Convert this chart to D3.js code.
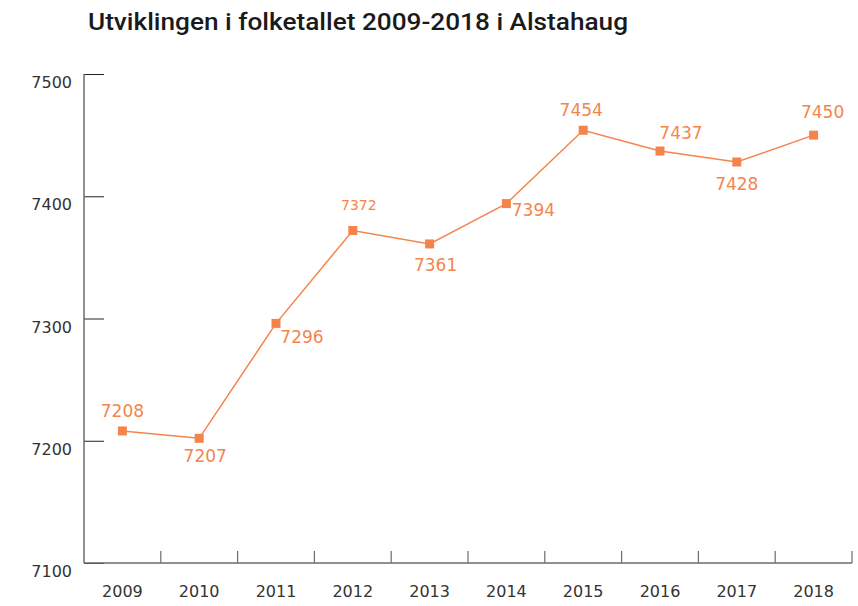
<!DOCTYPE html>
<html>
<head>
<meta charset="utf-8">
<script src="https://cdn.jsdelivr.net/npm/d3@7"></script>
<style>
  body { margin: 0; background: #fff; }
  svg text { font-family: "DejaVu Sans", Verdana, sans-serif; }
</style>
</head>
<body>
<div id="chart"></div>
<script>
// Chart data
const years = ["2009", "2010", "2011", "2012", "2013", "2014", "2015", "2016", "2017", "2018"];
const population = [7208, 7202, 7296, 7372, 7361, 7394, 7454, 7437, 7428, 7450];
const valueLabels = ["7208", "7207", "7296", "7372", "7361", "7394", "7454", "7437", "7428", "7450"];
const yTicks = [7100, 7200, 7300, 7400, 7500];
const titleText = "Utviklingen i folketallet 2009-2018 i Alstahaug";

// label placement: [dx, dy, anchor, font size]
const labelPos = [
  [0, -14, "middle", 17],
  [6, 24, "middle", 17],
  [26, 20, "middle", 17],
  [6, -20, "middle", 14],
  [6, 27, "middle", 17],
  [27, 12, "middle", 17],
  [-2, -14, "middle", 17],
  [21, -12, "middle", 17],
  [0, 28, "middle", 17],
  [9, -17, "middle", 17]
];

const W = 858, H = 606;
const margin = { top: 74, right: 6, bottom: 43, left: 84 };
const width = W - margin.left - margin.right;
const height = H - margin.top - margin.bottom;
const orange = "#f5844c";
const axisColor = "#6b6b6b";

const svg = d3.select("#chart").append("svg")
  .attr("width", W).attr("height", H);

svg.append("text")
  .attr("x", 88).attr("y", 30)
  .style("font-family", "Roboto, sans-serif")
  .style("font-weight", 500)
  .style("font-size", "23px")
  .attr("textLength", 540)
  .attr("lengthAdjust", "spacingAndGlyphs")
  .attr("fill", "#1a1a1a")
  .text(titleText);

const g = svg.append("g").attr("transform", `translate(${margin.left},${margin.top})`);

const x = d3.scaleBand().domain(years).range([0, width]);
const y = d3.scaleLinear().domain([7100, 7500]).range([height, 0]);

// Y axis: line with ticks pointing inward
const yAxis = g.append("g").call(d3.axisRight(y).tickValues(yTicks).tickSize(20).tickFormat(""));
yAxis.select(".domain").remove();
yAxis.selectAll(".tick line").attr("stroke", "#222").attr("stroke-width", 1);
g.append("line")
  .attr("x1", 0).attr("x2", 0).attr("y1", 0).attr("y2", height)
  .attr("stroke", axisColor).attr("stroke-width", 1.5);
g.selectAll(".ylab").data(yTicks).enter().append("text")
  .attr("class", "ylab")
  .attr("x", -12).attr("y", d => y(d) + 14)
  .attr("text-anchor", "end")
  .style("font-size", "16px").attr("fill", "#333")
  .text(d => d);

// X axis: baseline with upward ticks at band boundaries
const bounds = years.slice(1).map(d => x(d)).concat([width]);
g.append("line")
  .attr("x1", 0).attr("x2", width).attr("y1", height).attr("y2", height)
  .attr("stroke", axisColor).attr("stroke-width", 1.5);
g.selectAll(".xtick").data(bounds).enter().append("line")
  .attr("x1", d => d).attr("x2", d => d)
  .attr("y1", height).attr("y2", height - 12)
  .attr("stroke", axisColor).attr("stroke-width", 1.2);
g.selectAll(".xlab").data(years).enter().append("text")
  .attr("x", d => x(d) + x.bandwidth() / 2)
  .attr("y", height + 34)
  .attr("text-anchor", "middle")
  .style("font-size", "16px").attr("fill", "#333")
  .text(d => d);

// Line and markers
const pts = years.map((yr, i) => ({ yr, v: population[i], label: valueLabels[i], pos: labelPos[i] }));
const cx = d => x(d.yr) + x.bandwidth() / 2;

g.append("path")
  .datum(pts)
  .attr("fill", "none").attr("stroke", orange).attr("stroke-width", 1.5)
  .attr("d", d3.line().x(cx).y(d => y(d.v)));

g.selectAll(".marker").data(pts).enter().append("rect")
  .attr("x", d => cx(d) - 4.5).attr("y", d => y(d.v) - 4.5)
  .attr("width", 9).attr("height", 9)
  .attr("fill", orange);

g.selectAll(".vlab").data(pts).enter().append("text")
  .attr("x", d => cx(d) + d.pos[0])
  .attr("y", d => y(d.v) + d.pos[1])
  .attr("text-anchor", d => d.pos[2])
  .style("font-size", d => d.pos[3] + "px")
  .attr("fill", orange)
  .text(d => d.label);
</script>
</body>
</html>
